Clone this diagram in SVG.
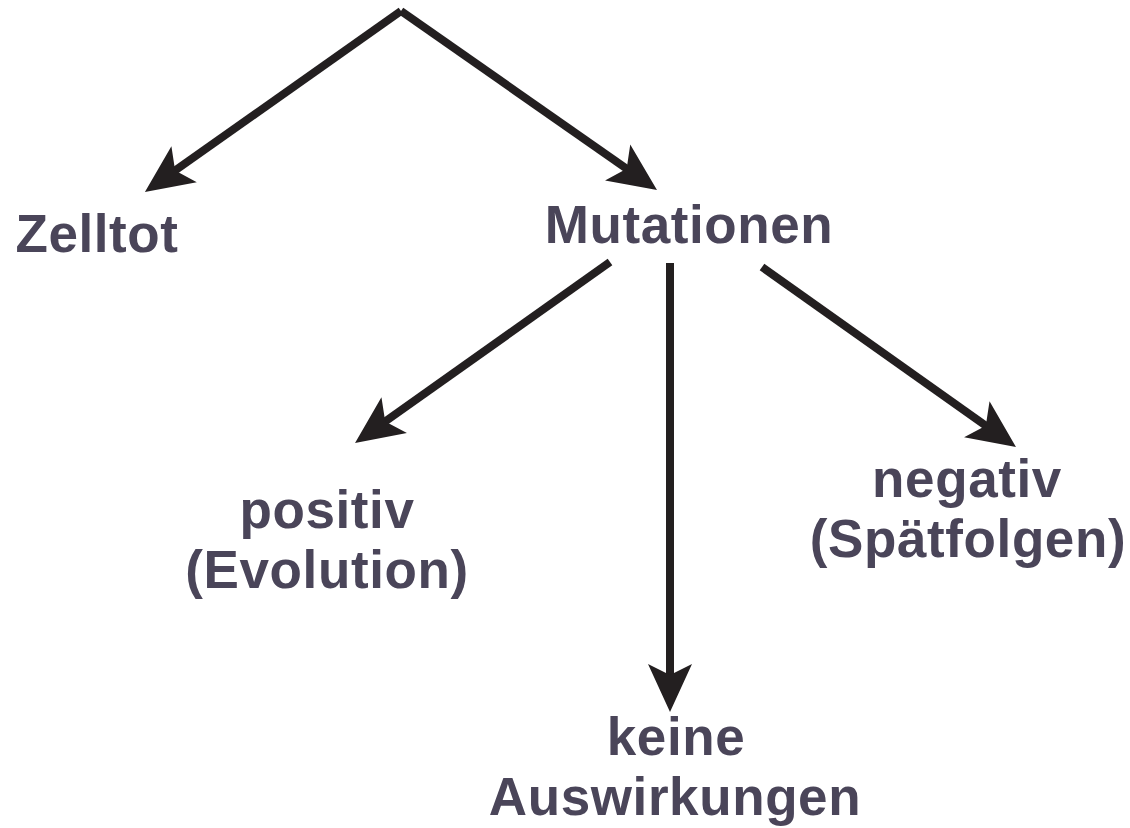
<svg xmlns="http://www.w3.org/2000/svg" width="1130" height="828" viewBox="0 0 1130 828">
<defs>
<marker id="ah" markerUnits="userSpaceOnUse" viewBox="-52 -24 54 48" refX="-30" refY="0" markerWidth="54" markerHeight="48" orient="auto">
<path d="M0,0 L-48,-22 L-37,0 L-48,22 Z" fill="#231f20"/>
</marker>
</defs>
<style>
.c{stroke:#231f20;stroke-width:8;fill:none;marker-end:url(#ah)}
.t{font-family:"Liberation Sans",Arial,sans-serif;font-weight:bold;font-size:53px;letter-spacing:0.6px;fill:#4a4559;text-anchor:middle}
</style>
<rect width="1130" height="828" fill="#ffffff"/>
<g id="connectors">
<line class="c" x1="401" y1="11" x2="169.4" y2="174.6"/>
<line class="c" x1="401" y1="11" x2="632.4" y2="172.8"/>
<line class="c" x1="610" y1="262" x2="379.5" y2="425.6"/>
<line class="c" x1="670" y1="263" x2="670" y2="682"/>
<line class="c" x1="762" y1="267" x2="991.5" y2="429.7"/>
</g>
<g id="zelltot"><text class="t" x="97" y="252">Zelltot</text></g>
<g id="mutationen"><text class="t" x="689" y="243">Mutationen</text></g>
<g id="positiv"><text class="t" x="327" y="528">positiv</text><text class="t" x="327" y="588">(Evolution)</text></g>
<g id="negativ"><text class="t" x="967" y="497">negativ</text><text class="t" x="968" y="557">(Spätfolgen)</text></g>
<g id="keine"><text class="t" x="676" y="755">keine</text><text class="t" x="675" y="815">Auswirkungen</text></g>
</svg>
